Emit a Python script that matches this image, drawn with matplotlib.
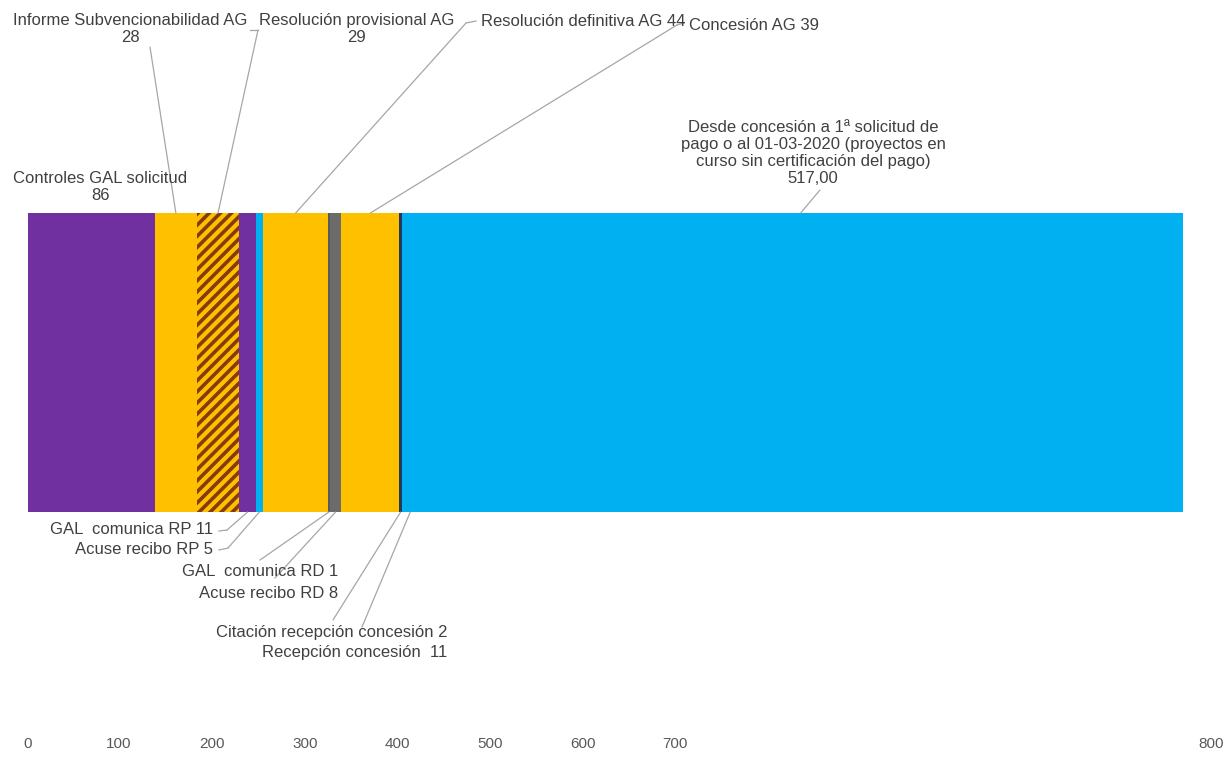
import matplotlib.pyplot as plt
from matplotlib.patches import ConnectionPatch
from matplotlib.lines import Line2D

# Data: phases of the procedure (days), in order along the bar
phases = ["Controles GAL solicitud", "Informe Subvencionabilidad AG", "Resolución provisional AG",
          "GAL  comunica RP", "Acuse recibo RP", "Resolución definitiva AG", "GAL  comunica RD",
          "Acuse recibo RD", "Concesión AG", "Citación recepción concesión", "Recepción concesión ",
          "Desde concesión a 1ª solicitud de\npago o al 01-03-2020 (proyectos en\ncurso sin certificación del pago)"]
days = [86, 28, 29, 11, 5, 44, 1, 8, 39, 2, 11, 517]
value_text = ["86", "28", "29", "11", "5", "44", "1", "8", "39", "2", "11", "517,00"]
separators = ["\n", "\n", "\n", " ", " ", " ", " ", " ", " ", " ", " ", "\n"]

tick_values = [0, 100, 200, 300, 400, 500, 600, 700, 800]

colors = ["#7030A0", "#FFC000", "#FFC000", "#7030A0", "#00B0F0", "#FFC000", "#5A5A5A",
          "#6B6B6B", "#FFC000", "#203864", "#00B0F0", "#00B0F0"]
hatches = [None, None, "///", None, None, None, None, None, None, None, None, None]

W, H = 1223, 760
plt.rcParams["font.family"] = ["Liberation Sans", "DejaVu Sans"]
plt.rcParams["hatch.color"] = "#843C0C"
plt.rcParams["hatch.linewidth"] = 2.6

fig = plt.figure(figsize=(W / 100, H / 100), dpi=100)
# axes spans x: 0 -> px 28, 800 -> px 1211 ; y: px 0 .. 730
ax = fig.add_axes([28 / W, 30 / H, 1183 / W, 730 / H])
ax.set_xlim(0, 800)
ax.set_ylim(0, 1)

bar_top = 1 - 213 / 730
bar_bot = 1 - 512 / 730
left = 0
centers = []
for v, c, h in zip(days, colors, hatches):
    ax.barh((bar_top + bar_bot) / 2, v, left=left, height=bar_top - bar_bot,
            color=c, hatch=h, edgecolor="none" if h is None else "#843C0C", linewidth=0)
    centers.append(left + v / 2)
    left += v

for s in ax.spines.values():
    s.set_visible(False)
ax.set_yticks([])

# tick labels sit where the original chart drew them
tick_px = [28, 119, 212, 305, 397, 490, 583, 675, 1211]
ax.set_xticks([(p - 28) / 1183 * 800 for p in tick_px])
ax.set_xticklabels([str(t) for t in tick_values], color="#595959", fontsize=11,
                   family=["Liberation Sans Narrow", "Liberation Sans", "DejaVu Sans"])
ax.tick_params(axis="x", length=0, pad=5)

txt_color = "#404040"
line_color = "#A6A6A6"


def fig_xy(px, py):
    return (px / W, 1 - py / H)


def label(i, px, py, ha):
    fig.text(*fig_xy(px, py), phases[i] + separators[i] + value_text[i], ha=ha, va="center",
             fontsize=12, color=txt_color, linespacing=1.17, multialignment="center")


def leader(i, pts, top=True):
    # pts: pixel points from the label toward the bar, last segment ends on the bar
    for a, b in zip(pts[:-1], pts[1:]):
        fig.add_artist(Line2D([a[0] / W, b[0] / W], [1 - a[1] / H, 1 - b[1] / H],
                              transform=fig.transFigure, color=line_color, lw=0.9))
    yb = bar_top if top else bar_bot
    con = ConnectionPatch(xyA=fig_xy(*pts[-1]), coordsA=fig.transFigure,
                          xyB=(centers[i], yb), coordsB=ax.transData,
                          color=line_color, lw=0.9)
    fig.add_artist(con)


# top labels
label(0, 100, 187, "center")
label(1, 130, 29, "center")
leader(1, [(150, 47)])
label(2, 357, 29, "center")
leader(2, [(250, 30), (258, 30)])
label(5, 583, 21, "center")
leader(5, [(476, 21), (466, 23)])
label(8, 754, 25, "center")
leader(8, [(684, 23), (677, 25)])
label(11, 813, 153, "center")
leader(11, [(820, 190)])

# bottom labels
label(3, 213, 530, "right")
leader(3, [(219, 531), (227, 530)], top=False)
label(4, 213, 550, "right")
leader(4, [(219, 550), (228, 548)], top=False)
label(6, 338, 572, "right")
leader(6, [(260, 560)], top=False)
label(7, 338, 593, "right")
leader(7, [(275, 578)], top=False)
label(9, 447, 633, "right")
leader(9, [(333, 620)], top=False)
label(10, 447, 653, "right")
leader(10, [(362, 627)], top=False)

fig.savefig("out.png", dpi=100)
